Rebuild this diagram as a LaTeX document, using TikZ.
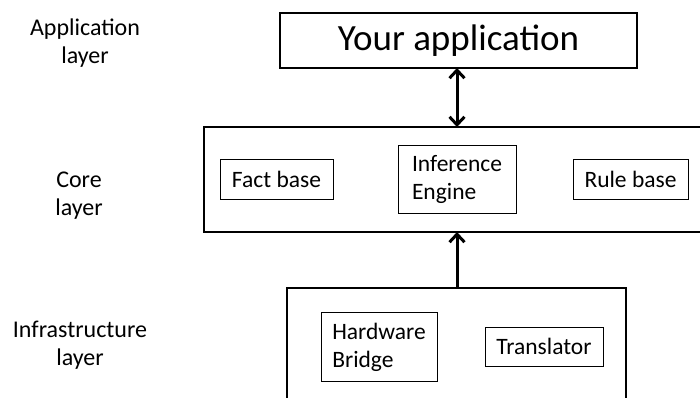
\documentclass[tikz,border=0pt]{standalone}
\usepackage{fontspec}
\setmainfont{Carlito}
\usetikzlibrary{arrows.meta}
\begin{document}
\begin{tikzpicture}[x=1pt,y=-1pt,
  every node/.style={inner sep=0pt,outer sep=0pt},
  layerbox/.style={draw,line width=2.2pt},
  appbox/.style={draw,line width=1.4pt},
  part/.style={draw,line width=1pt,font=\fontsize{23.5}{28}\selectfont},
  layerlabel/.style={align=center,font=\fontsize{24}{28}\selectfont},
  link/.style={line width=3pt,>={Straight Barb[length=8pt,width=15pt]}}]
\useasboundingbox (0,0) rectangle (700,397);
\clip (0,0) rectangle (700,397);

% layer boxes
\node[appbox,minimum width=357pt,minimum height=55pt,
      font=\fontsize{37}{40}\selectfont] (app) at (458.5,40.5) {Your application};
\node[layerbox,minimum width=506pt,minimum height=105pt] (core) at (457,179.5) {};
\node[layerbox,minimum width=339pt,minimum height=124pt] (infra) at (456.5,350) {};

% parts of the core layer
\node[part,minimum width=113pt,minimum height=40pt] (fact) at (276.5,179) {Fact base};
\node[part,minimum width=118pt,minimum height=68pt,align=left] (engine) at (457,179.5) {Inference\\Engine};
\node[part,minimum width=115pt,minimum height=40pt] (rule) at (630.5,179) {Rule base};

% parts of the infrastructure layer
\node[part,minimum width=116pt,minimum height=69pt,align=left] (bridge) at (379,347) {Hardware\\Bridge};
\node[part,minimum width=118pt,minimum height=39pt] (trans) at (544,346.5) {Translator};

% layer names
\node[layerlabel] (lapp) at (85,43.5) {Application\\layer};
\node[layerlabel] (lcore) at (79,195.5) {Core\\layer};
\node[layerlabel] (linfra) at (80,345.5) {Infrastructure\\layer};

% connectors
\draw[link,<->] (app.south -| core.north) -- (core.north);
\draw[link,->] (infra.north -| core.south) -- (core.south);
\end{tikzpicture}
\end{document}
